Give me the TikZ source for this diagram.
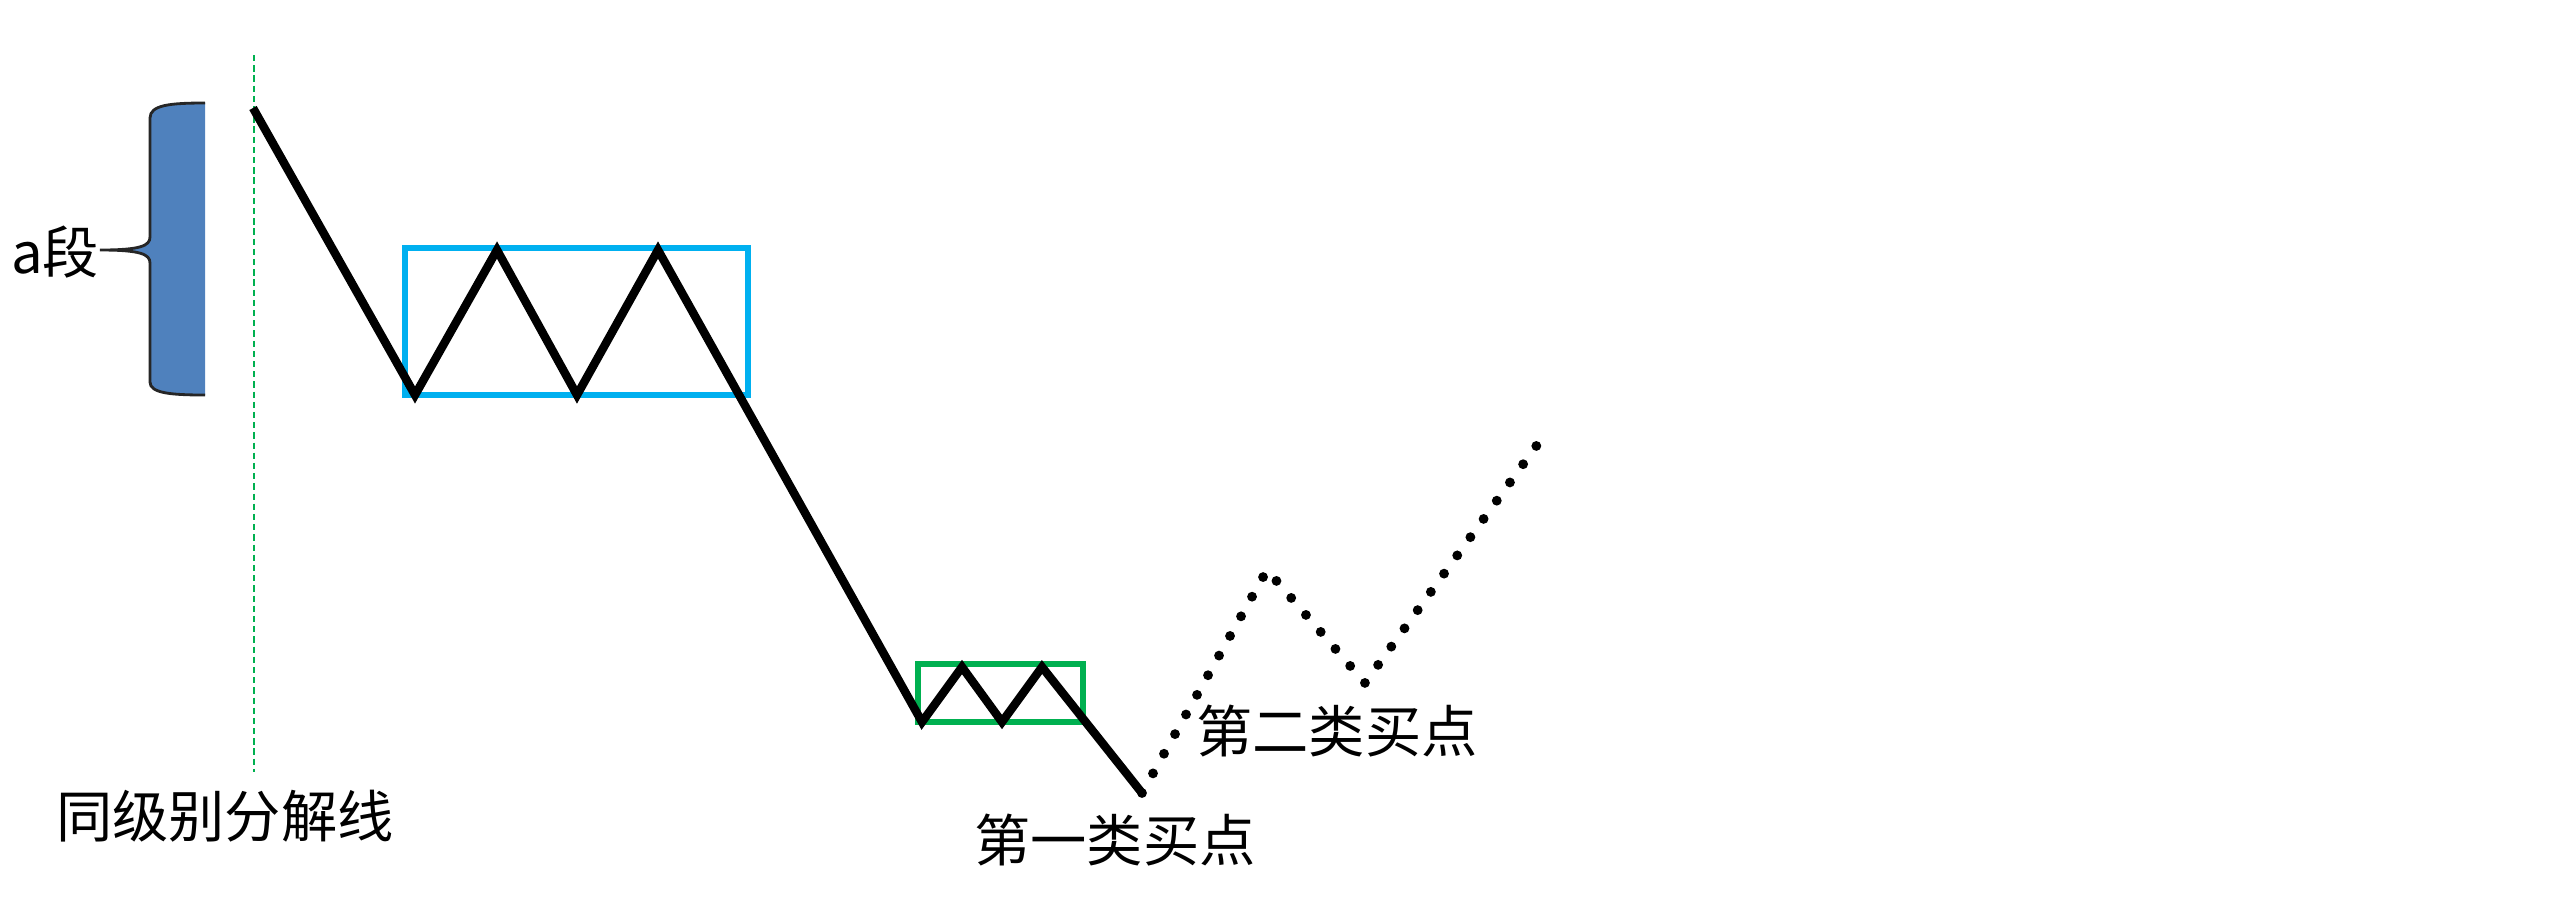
\documentclass[tikz,border=0pt]{standalone}
\usepackage{fontspec}
\setmainfont{Noto Sans CJK SC}
\definecolor{skyb}{HTML}{00B0F0}
\definecolor{grn}{HTML}{00B050}
\definecolor{bracefill}{HTML}{4F81BD}
\begin{document}
\begin{tikzpicture}[x=0.01cm,y=-0.01cm,
  lbl/.style={inner sep=0pt,font=\fontsize{16pt}{19pt}\selectfont},
  trend/.style={line width=2.4pt,line join=miter,line cap=butt},
  future/.style={line width=2.8pt,line cap=round,dash pattern=on 0pt off 6.4pt},
  boxb/.style={draw=skyb,line width=1.8pt},
  boxg/.style={draw=grn,line width=1.7pt}]
\useasboundingbox (0,0) rectangle (2560,905);
% dividing line
\coordinate (dtop) at (254,55);
\coordinate (dbot) at (254,772);
\draw[grn,line width=0.6pt,dash pattern=on 1.8pt off 1.1pt] (dtop) -- (dbot);
% boxes
\draw[boxb] (405,248) rectangle (748,395);
\draw[boxg] (918,664) rectangle (1083,722);
% zigzag
\coordinate (p0) at (253,108);
\coordinate (p1) at (415,395);
\coordinate (p2) at (497,250);
\coordinate (p3) at (577,395);
\coordinate (p4) at (658,250);
\coordinate (p5) at (922,722);
\coordinate (p6) at (962,667);
\coordinate (p7) at (1002,722);
\coordinate (p8) at (1042,667);
\coordinate (p9) at (1142,793);
\draw[trend] (p0) -- (p1) -- (p2) -- (p3) -- (p4) -- (p5) -- (p6) -- (p7) -- (p8) -- (p9);
\coordinate (q1) at (1267,570);
\coordinate (q2) at (1365,683);
\coordinate (q3) at (1537,445);
\draw[future] (p9) -- (q1) -- (q2) -- (q3);
% brace
\fill[bracefill] (205,103) .. controls (170,103) and (150,105) .. (150,118)
  -- (150,237) .. controls (150,246) and (140,250) .. (100,250)
  .. controls (140,250) and (150,254) .. (150,263)
  -- (150,382) .. controls (150,393) and (170,395) .. (205,395) -- cycle;
\draw[line width=0.8pt,black!85] (205,103) .. controls (170,103) and (150,105) .. (150,118)
  -- (150,237) .. controls (150,246) and (140,250) .. (100,250)
  .. controls (140,250) and (150,254) .. (150,263)
  -- (150,382) .. controls (150,393) and (170,395) .. (205,395);
% labels
\node[lbl] (la) at (55,252) {a段};
\node[lbl] (ldiv) at (225,816) {同级别分解线};
\node[lbl] (lb1) at (1115,840) {第一类买点};
\node[lbl] (lb2) at (1337,731) {第二类买点};
\end{tikzpicture}
\end{document}
